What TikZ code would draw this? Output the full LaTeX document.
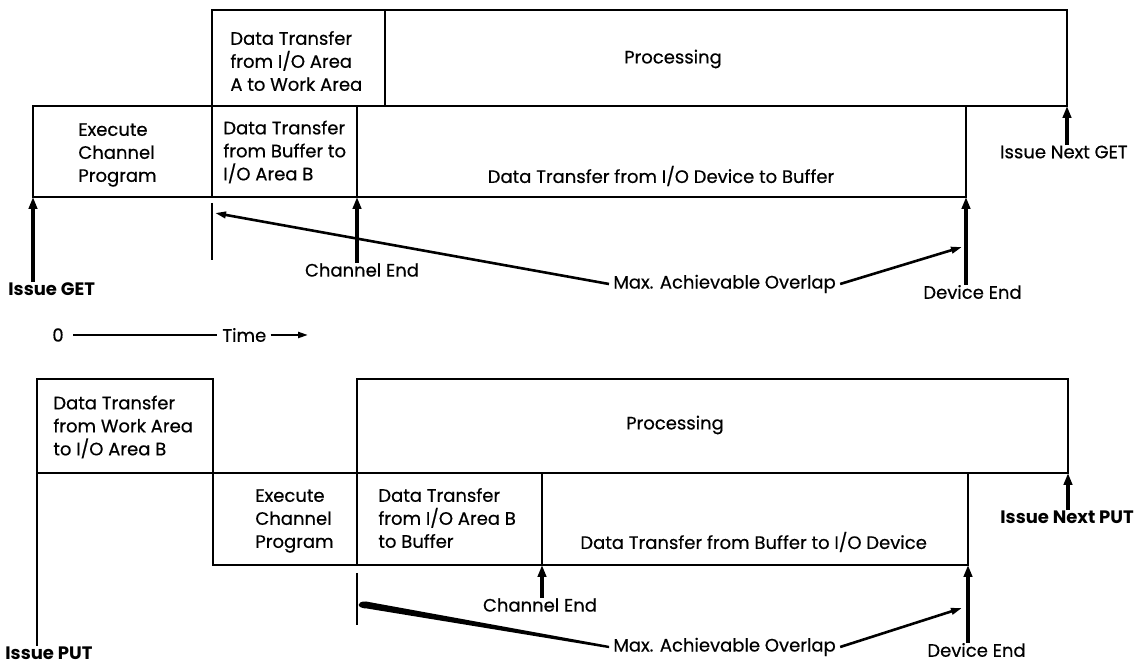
\documentclass[tikz,border=0pt]{standalone}
\usepackage{fontspec}
\setmainfont{Poppins}[UprightFeatures={FakeBold=0.5}]
\usetikzlibrary{arrows.meta}

\begin{document}
\begin{tikzpicture}[x=0.5pt,y=-0.5pt,
  % box with its size given in drawing units
  box/.style 2 args={draw, line width=1pt, inner sep=0pt, outer sep=0pt,
    anchor=north west, minimum width=#1*0.5pt, minimum height=#2*0.5pt},
  txt/.style={inner sep=0pt, font=\fontsize{9}{11.5}\selectfont, align=left},
  bold/.style={txt, font=\fontsize{9}{11.5}\selectfont\bfseries},
  up/.style={line width=1.6pt, -{Triangle[length=6pt,width=4.2pt]}},
  ovl/.style={line width=1.3pt, -{Triangle[length=5.5pt,width=3.2pt]}},
  tickline/.style={line width=1.3pt},
]
\useasboundingbox (0,0) rectangle (1136,667);

% ---------------- GET sequence ----------------
\node[box={173}{96}] (areaA)  at (212,10) {};
\node[box={682}{96}] (procT)  at (385,10) {};
\node[box={179}{91}] (execT)  at (33,106) {};
\node[box={145}{91}] (bufB)   at (212,106) {};
\node[box={609}{91}] (devBuf) at (357,106) {};

\node[txt, anchor=west] (tAreaA) at (230,61) {Data Transfer\\from I/O Area\\A to Work Area};
\node[txt] (tProcT) at (673,59) {Processing};
\node[txt, anchor=west] (tExecT) at (78,155) {Execute\\Channel\\Program};
\node[txt, anchor=west] (tBufB) at (223,152) {Data Transfer\\from Buffer to\\I/O Area B};
\node[txt] (tDevBuf) at (661,176) {Data Transfer from I/O Device to Buffer};

\node[bold, anchor=west] (issueGet) at (8,289) {Issue GET};
\node[txt] (chEndT) at (362,270) {Channel End};
\node[txt, anchor=west] (ovlT) at (613,284) {Max. Achievable Overlap};
\node[txt, anchor=west] (devEndT) at (923,292) {Device End};
\node[txt, anchor=east] (nextGet) at (1128,152) {Issue Next GET};

\coordinate (tickTa) at (212,203);
\coordinate (tickTb) at (212,260);
\coordinate (ovlTa)  at (215,213);
\coordinate (ovlTb)  at (962,247);

\draw[up] (execT.south west |- issueGet.north) -- (execT.south west);
\draw[tickline] (tickTa) -- (tickTb);
\draw[up] (bufB.south east |- chEndT.north) -- (bufB.south east);
\draw[ovl] ([xshift=-2pt]ovlT.west) -- (ovlTa);
\draw[ovl] ([xshift=2pt]ovlT.east) -- (ovlTb);
\draw[up] (devBuf.south east |- devEndT.north) -- (devBuf.south east);
\draw[up] (procT.south east |- nextGet.north) -- (procT.south east);

% ---------------- time axis ----------------
\node[txt] (zero) at (58,335) {0};
\node[txt, anchor=west] (time) at (222,335) {Time};
\coordinate (timeEnd) at (308,335);
\draw[line width=1.1pt] ([xshift=4.5pt]zero.east) -- ([xshift=-2.5pt]time.west);
\draw[line width=1.1pt, -{Triangle[length=5pt,width=3pt]}] ([xshift=2pt]time.east) -- (timeEnd);

% ---------------- PUT sequence ----------------
\node[box={176}{94}] (workB)   at (37,379) {};
\node[box={711}{94}] (procB)   at (357,379) {};
\node[box={144}{92}] (execB)   at (213,473) {};
\node[box={185}{92}] (areaBuf) at (357,473) {};
\node[box={426}{92}] (bufDev)  at (542,473) {};

\node[txt, anchor=west] (tWorkB) at (53,427) {Data Transfer\\from Work Area\\to I/O Area B};
\node[txt] (tProcB) at (675,425) {Processing};
\node[txt, anchor=west] (tExecB) at (255,521) {Execute\\Channel\\Program};
\node[txt, anchor=west] (tAreaBuf) at (378,518) {Data Transfer\\from I/O Area B\\to Buffer};
\node[txt, anchor=west] (tBufDev) at (580,542) {Data Transfer from Buffer to I/O Device};

\node[bold, anchor=west] (issuePut) at (5,653) {Issue PUT};
\node[txt] (chEndB) at (540,605) {Channel End};
\node[txt, anchor=west] (ovlB) at (613,647) {Max. Achievable Overlap};
\node[txt, anchor=west] (devEndB) at (927,650) {Device End};
\node[bold, anchor=west] (nextPut) at (1000,517) {Issue Next PUT};

\coordinate (tickBa) at (357,573);
\coordinate (tickBb) at (357,625);
\coordinate (ovlBb)  at (962,608);

\draw[line width=1.1pt] (workB.south west) -- (workB.south west |- issuePut.north);
\draw[line width=0.8pt] (tickBa) -- (tickBb);
\draw[up] (areaBuf.south east |- chEndB.north) -- (areaBuf.south east);
% tapered stroke running into the overlap label
\fill ([xshift=-2pt,yshift=0.6pt]ovlB.west) -- (366,601.5)
  .. controls (356,601) and (356,608.5) .. (367,608.5)
  -- ([xshift=-2pt,yshift=-0.6pt]ovlB.west) -- cycle;
\draw[ovl] ([xshift=2pt]ovlB.east) -- (ovlBb);
\draw[up] (bufDev.south east |- devEndB.north) -- (bufDev.south east);
\draw[up] (procB.south east |- nextPut.north) -- (procB.south east);
\end{tikzpicture}
\end{document}
